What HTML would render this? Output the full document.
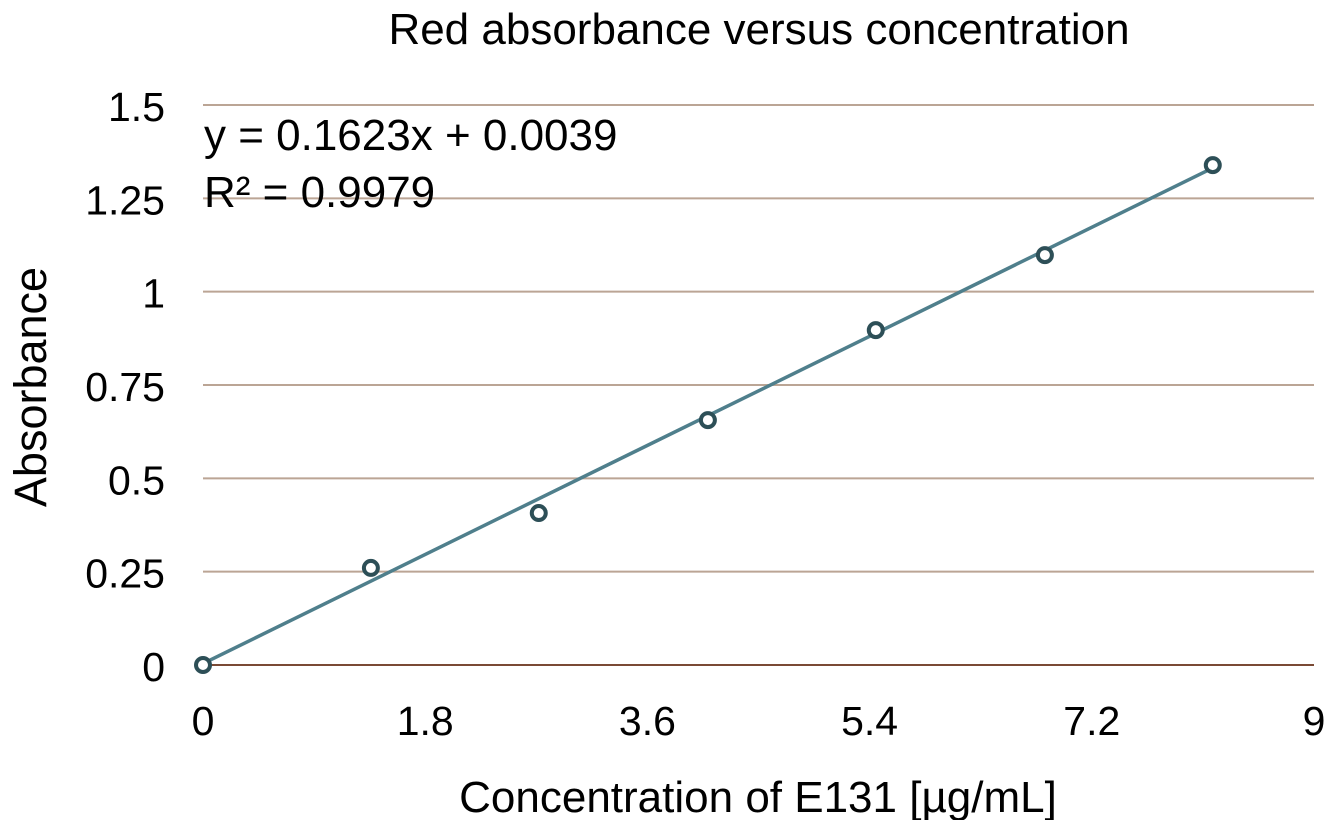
<!DOCTYPE html>
<html><head><meta charset="utf-8"><style>
html,body{margin:0;padding:0;background:#fff;}
svg{display:block;font-family:"Liberation Sans",Arial,sans-serif;}
</style></head><body>
<svg id="chart" width="1328" height="820" viewBox="0 0 1328 820">
<text x="759" y="44" text-anchor="middle" font-size="44" fill="#000">Red absorbance versus concentration</text>
<g id="grid"></g>
<g id="xticks"></g>
<g id="yticks"></g>
<g id="series"></g>
<text x="758" y="812" text-anchor="middle" font-size="44" fill="#000">Concentration of E131 [µg/mL]</text>
<text transform="translate(46,387) rotate(-90)" text-anchor="middle" font-size="45" fill="#000">Absorbance</text>
<text x="204" y="150" font-size="44" fill="#000">y = 0.1623x + 0.0039</text>
<text x="204" y="207" font-size="44" fill="#000">R² = 0.9979</text>
</svg>
<script>
const xValues = [0, 1.36, 2.72, 4.09, 5.45, 6.82, 8.18];
const yValues = [0, 0.26, 0.407, 0.656, 0.897, 1.098, 1.339];
const xTicks = [0, 1.8, 3.6, 5.4, 7.2, 9];
const xTickLabels = ["0", "1.8", "3.6", "5.4", "7.2", "9"];
const yTicks = [0, 0.25, 0.5, 0.75, 1, 1.25, 1.5];
const yTickLabels = ["0", "0.25", "0.5", "0.75", "1", "1.25", "1.5"];
const slope = 0.1623, intercept = 0.0039;

const NS = "http://www.w3.org/2000/svg";
const X0 = 203, X1 = 1314, Y0 = 665, Y1 = 105;
const sx = v => X0 + (v - 0) / 9 * (X1 - X0);
const sy = v => Y0 - (v - 0) / 1.5 * (Y0 - Y1);
function mk(tag, attrs, parent) {
  const e = document.createElementNS(NS, tag);
  for (const k in attrs) e.setAttribute(k, attrs[k]);
  parent.appendChild(e);
  return e;
}
const grid = document.getElementById('grid');
const yt = document.getElementById('yticks');
yTicks.forEach((t, i) => {
  const l = mk('line', {x1: X0, x2: X1, y1: sy(t), y2: sy(t), stroke: t === 0 ? '#7a4a35' : '#bba595', 'stroke-width': 2}, grid);
  
  
  const tx = mk('text', {x: 165, y: sy(t) + 16, 'text-anchor': 'end', 'font-size': 41, fill: '#000'}, yt);
  tx.textContent = yTickLabels[i];
  
  
});
const xt = document.getElementById('xticks');
xTicks.forEach((t, i) => {
  const tx = mk('text', {x: sx(t), y: 735, 'text-anchor': 'middle', 'font-size': 41, fill: '#000'}, xt);
  tx.textContent = xTickLabels[i];
  
  
});
const s = document.getElementById('series');
const xmax = Math.max(...xValues);
const tl = mk('line', {x1: sx(0), y1: sy(intercept), x2: sx(xmax), y2: sy(slope * xmax + intercept), stroke: '#4f7f8c', 'stroke-width': 3.5}, s);


xValues.forEach((x, i) => {
  const c = mk('circle', {cx: sx(x), cy: sy(yValues[i]), r: 7, fill: '#fff', stroke: '#2d4f57', 'stroke-width': 4}, s);
  
  
});
</script>
</body></html>
